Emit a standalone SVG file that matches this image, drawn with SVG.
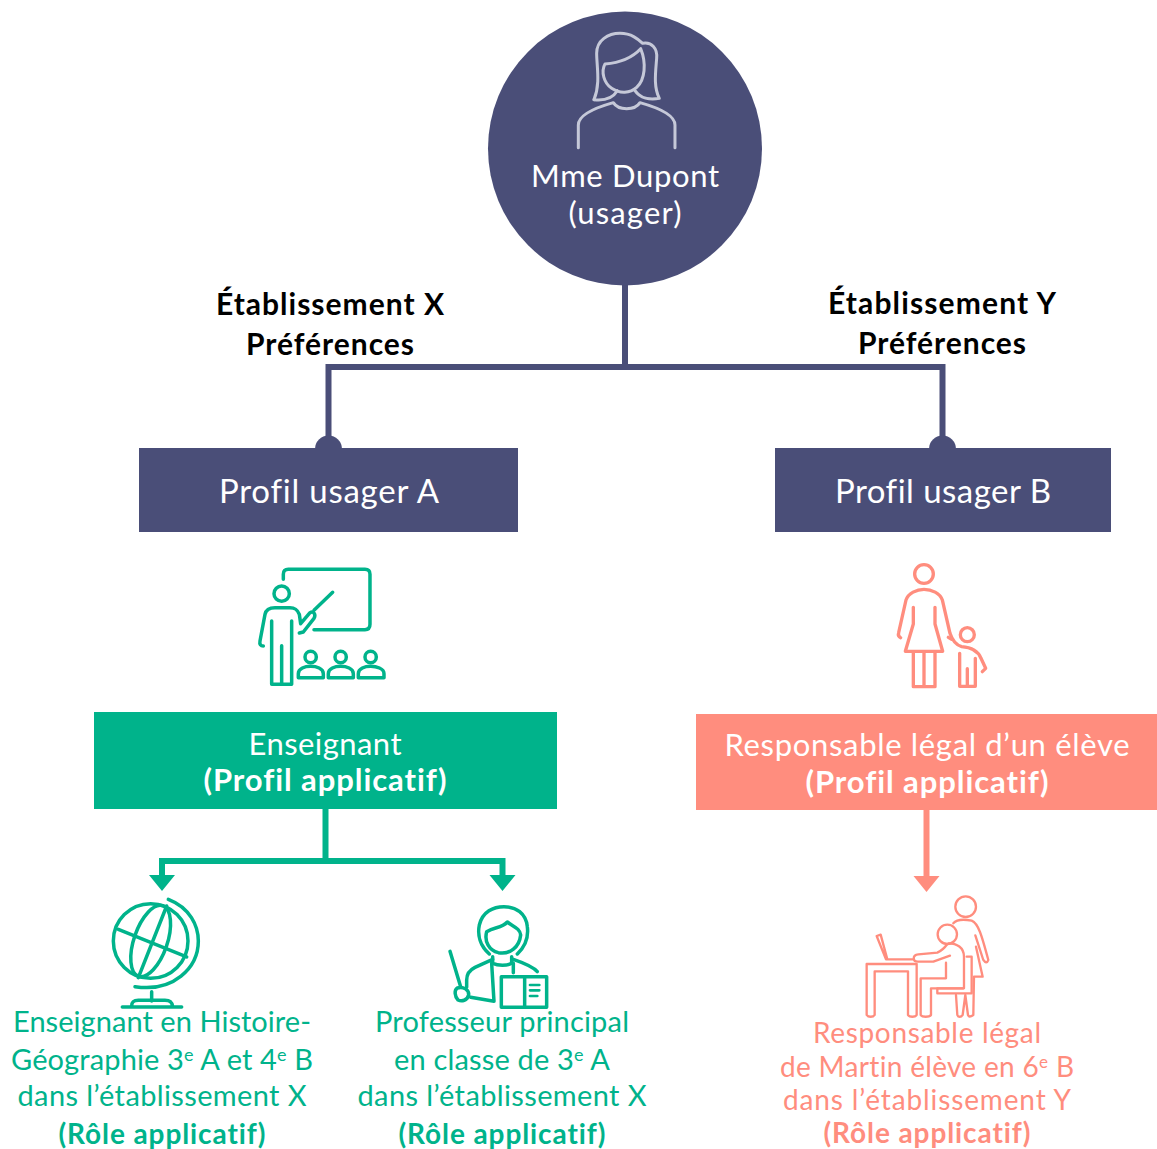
<svg xmlns="http://www.w3.org/2000/svg" width="1157" height="1149" viewBox="0 0 1157 1149">
<style>
text{font-family:"Lato","Noto Sans",sans-serif;text-anchor:middle;font-size:30px;font-variant-ligatures:none}
.b{font-weight:700}
.w{fill:#fff}
.k{fill:#000;font-weight:700}
.g{fill:#00b38b}
.r{fill:#ff8d7e}
.icon{fill:none;stroke-linejoin:round;stroke-linecap:round}
.ig{stroke:#00b38b;stroke-width:10.500}
.ir{stroke:#ff8d7e;stroke-width:10}
.con{fill:none;stroke-width:6}
</style>
<g id="connectors">
<path class="con" stroke="#4a4e78" d="M625 284V367M328.500 440V367H942.500V440"/>
<circle cx="328.500" cy="449" r="13.500" fill="#4a4e78"/>
<circle cx="942.500" cy="449" r="13.500" fill="#4a4e78"/>
<path class="con" stroke="#00b38b" d="M325.500 808V861M162 875V861H502.500V875"/>
<path d="M149 875H175L162 891ZM489.500 875H515.500L502.500 891Z" fill="#00b38b"/>
<path class="con" stroke="#ff8d7e" d="M926.500 809V877"/>
<path d="M913.500 876H939.500L926.500 892Z" fill="#ff8d7e"/>
</g>
<g id="node-usager">
<circle cx="625" cy="148.500" r="137" fill="#4a4e78"/>
<g transform="translate(480 0) scale(.3333)" class="icon" stroke="#c5c8d8" stroke-width="9">
<path d="M342 299C362 250 350 200 350 160C350 120 385 100 420 100C455 100 475 118 488 130C515 125 533 145 530 175C527 215 520 260 538 295C510 300 480 295 465 272"/>
<path d="M342 299C370 302 398 295 412 272"/>
<path d="M482 146C455 175 420 188 375 192C362 215 372 250 395 265C420 282 450 280 470 262C495 240 500 190 482 146Z"/>
<path d="M295 443V375C295 345 350 322 400 308C415 332 465 332 480 308C530 322 585 345 585 375V443"/>
</g>
<text class="w" x="625" y="187" style="font-size:31px" textLength="188">Mme Dupont</text>
<text class="w" x="625" y="224" style="font-size:31px" textLength="113">(usager)</text>
</g>
<g id="label-x">
<text class="k" x="330" y="315" textLength="228">Établissement X</text>
<text class="k" x="330" y="355" textLength="168">Préférences</text>
</g>
<g id="label-y">
<text class="k" x="942" y="314" textLength="228">Établissement Y</text>
<text class="k" x="942" y="354" textLength="168">Préférences</text>
</g>
<g id="node-profil-a">
<rect x="139" y="448" width="379" height="84" fill="#4a4e78"/>
<text class="w" x="329" y="503" style="font-size:33px" textLength="220">Profil usager A</text>
</g>
<g id="node-profil-b">
<rect x="775" y="448" width="336" height="84" fill="#4a4e78"/>
<text class="w" x="943" y="503" style="font-size:33px" textLength="216">Profil usager B</text>
</g>
<g id="icon-teacher" transform="translate(240 551) scale(.3333)" class="icon ig">
<path d="M130 85V70Q130 55 145 55H375Q390 55 390 70V220Q390 236 375 236H222"/>
<circle cx="125" cy="128" r="23"/>
<path d="M70 285C62 285 58 280 60 270L75 190C78 175 90 170 105 170H150C165 170 172 175 178 190L182 218L210 185C222 178 228 192 222 202L190 243L178 246"/>
<path d="M222 178L278 124"/>
<path d="M95 210V400H155V210M125 284V400"/>
<circle cx="212" cy="318" r="17"/><circle cx="302" cy="318" r="17"/><circle cx="392" cy="318" r="17"/>
<path d="M175 380V368C175 352 195 346 212 346C229 346 250 352 250 368V380ZM265 380V368C265 352 285 346 302 346C319 346 340 352 340 368V380ZM355 380V368C355 352 375 346 392 346C409 346 432 352 432 368V380Z"/>
</g>
<g id="icon-parent" transform="translate(880 550) scale(.3333)" class="icon ir">
<circle cx="132" cy="72" r="28"/>
<path d="M62 263C55 260 54 255 56 248L78 150C85 130 110 118 132 118C155 118 180 130 187 150L210 250C215 265 225 285 245 290C275 292 295 305 303 325L317 355L307 365"/>
<path d="M100 172V222L76 304H188L165 222V172"/>
<path d="M100 306V410H165V306M132 306V410"/>
<path d="M205 262L215 268"/>
<circle cx="262" cy="254" r="21"/>
<path d="M239 310V409H286V325M262 356V409"/>
</g>
<g id="node-enseignant">
<rect x="94" y="712" width="463" height="97" fill="#00b38b"/>
<text class="w" x="325" y="755" style="font-size:31px" textLength="153">Enseignant</text>
<text class="w b" x="325" y="791" style="font-size:31px" textLength="243">(Profil applicatif)</text>
</g>
<g id="node-responsable">
<rect x="696" y="714" width="461" height="96" fill="#ff8d7e"/>
<text class="w" x="927" y="756" style="font-size:31px" textLength="405">Responsable légal d’un élève</text>
<text class="w b" x="927" y="793" style="font-size:31px" textLength="243">(Profil applicatif)</text>
</g>
<g id="role-hg">
<g transform="translate(90 861) scale(.3333)" class="icon ig">
<circle cx="182" cy="240" r="112"/>
<ellipse cx="182" cy="240" rx="50" ry="112" transform="rotate(19 182 240)"/>
<path d="M85 205L290 288M145 350L230 135"/>
<path d="M235 115C300 140 325 195 325 240C325 320 250 395 135 377"/>
<path d="M185 392V420M97 438H275M125 436C125 422 130 418 145 418H225C240 418 245 422 248 436"/>
</g>
<text class="g" x="162" y="1032" style="font-size:29px" textLength="298">Enseignant en Histoire-</text>
<text class="g" x="162" y="1070" style="font-size:29px" textLength="302">Géographie 3<tspan dy="-9" style="font-size:18px">e</tspan><tspan dy="9"> A et 4</tspan><tspan dy="-9" style="font-size:18px">e</tspan><tspan dy="9"> B</tspan></text>
<text class="g" x="162" y="1106" style="font-size:29px" textLength="289">dans l’établissement X</text>
<text class="g b" x="162" y="1144" style="font-size:28px" textLength="207">(Rôle applicatif)</text>
</g>
<g id="role-pp">
<g transform="translate(430 860) scale(.3333)" class="icon ig">
<path d="M178 282C150 258 142 225 148 195C158 155 190 140 222 140C258 140 288 160 292 200C296 230 285 260 262 282"/>
<path d="M232 186C215 205 195 200 170 215C162 245 178 272 205 278C240 284 268 262 272 225C270 205 250 200 232 186Z"/>
<path d="M188 290V310C205 318 230 318 245 310V290"/>
<path d="M188 298L135 322C115 332 110 345 110 360V382M185 310L192 424L122 412"/>
<path d="M250 310V338M250 298C285 310 310 320 322 335"/>
<path d="M60 274L92 380"/>
<path d="M82 384C100 378 118 390 116 405C112 422 95 425 84 420C74 410 72 390 82 384Z"/>
<path d="M214 350H350V442H214ZM284 350V442"/>
<path d="M300 375H328M300 391H328M300 408H322" stroke-width="8"/>
</g>
<text class="g" x="502" y="1032" style="font-size:29px" textLength="254">Professeur principal</text>
<text class="g" x="502" y="1070" style="font-size:29px" textLength="216">en classe de 3<tspan dy="-9" style="font-size:18px">e</tspan><tspan dy="9"> A</tspan></text>
<text class="g" x="502" y="1106" style="font-size:29px" textLength="289">dans l’établissement X</text>
<text class="g b" x="502" y="1144" style="font-size:28px" textLength="207">(Rôle applicatif)</text>
</g>
<g id="role-rl">
<g transform="translate(850 860) scale(.3333)" class="icon" stroke="#ff8d7e" stroke-width="7">
<circle cx="347" cy="140" r="31"/>
<circle cx="292" cy="223" r="29"/>
<path d="M310 190C320 178 345 178 365 182C385 190 395 225 415 300C412 310 405 308 400 300L376 226"/>
<path d="M378 260L398 350H372L370 465C360 472 356 470 354 465L346 405L338 465C334 472 324 472 322 465L318 405"/>
<path d="M350 290H365V400H262V385H340"/>
<path d="M296 250C320 250 342 262 342 290V385H243V465C238 472 216 472 212 465V355H288V308"/>
<path d="M300 287L250 305H203C188 305 186 285 205 283L262 278C275 272 285 262 292 252"/>
<path d="M192 298H108L80 228L92 224L112 298"/>
<path d="M50 312H200V465C196 472 178 472 174 465V334H74V465C70 472 54 472 50 465Z"/>
</g>
<text class="r" x="927" y="1043" style="font-size:28px" textLength="228">Responsable légal</text>
<text class="r" x="927" y="1077" style="font-size:28px" textLength="294">de Martin élève en 6<tspan dy="-9" style="font-size:17px">e</tspan><tspan dy="9"> B</tspan></text>
<text class="r" x="927" y="1110" style="font-size:28px" textLength="288">dans l’établissement Y</text>
<text class="r b" x="927" y="1143" style="font-size:28px" textLength="207">(Rôle applicatif)</text>
</g>
</svg>
